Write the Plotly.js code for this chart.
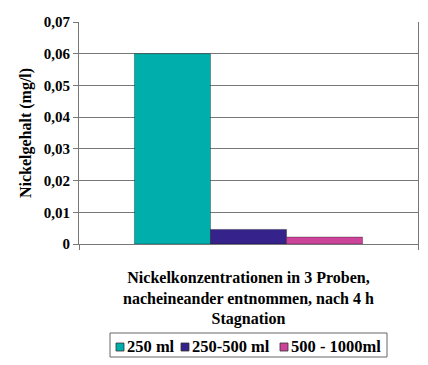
<!DOCTYPE html>
<html>
<head>
<meta charset="utf-8">
<script src="https://cdn.plot.ly/plotly-3.0.1.min.js"></script>
<style>html,body{margin:0;padding:0;background:#fff;}#chart{width:428px;height:365px;}</style>
</head>
<body>
<div id="chart"></div>
<script>
var category = ['Nickelkonzentrationen'];
var seriesNames = ['250 ml', '250-500 ml', '500 - 1000ml'];
var seriesValues = [[0.06], [0.0046], [0.0022]];
var seriesColors = ['#00AFAC', '#35228A', '#CC4499'];
var yTickVals = [0, 0.01, 0.02, 0.03, 0.04, 0.05, 0.06, 0.07];
var yTickText = ['0', '0,01', '0,02', '0,03', '0,04', '0,05', '0,06', '0,07'];
var xTitle = 'Nickelkonzentrationen in 3 Proben,<br>nacheineander entnommen, nach 4 h<br>Stagnation';
var yTitle = 'Nickelgehalt (mg/l)';

var font = {family: 'Liberation Serif', color: '#000', weight: 700};

// plot area geometry (pixels) used to place the hand-made legend
var M = {l: 79, r: 10, t: 22, b: 121};
var plotW = 428 - M.l - M.r, plotH = 365 - M.t - M.b;
function px(x) { return (x - M.l) / plotW; }
function py(y) { return (365 - M.b - y) / plotH; }

var legendSwatchX = [116, 181, 280];   // pixel left of each swatch
var legendTop = 343, legendSize = 8;

var traces = seriesNames.map(function(n, i) {
  return {
    type: 'bar', name: n, x: category, y: seriesValues[i], showlegend: false,
    marker: {color: seriesColors[i], line: {color: 'rgba(0,0,0,0.45)', width: 0.7}}
  };
});

var shapes = [{
  type: 'rect', xref: 'paper', yref: 'paper',
  x0: px(110), x1: px(387), y0: py(357), y1: py(333),
  line: {color: '#666', width: 1}, fillcolor: '#fff', layer: 'above'
}];
var annotations = [];
seriesNames.forEach(function(n, i) {
  var sx = legendSwatchX[i];
  shapes.push({
    type: 'rect', xref: 'paper', yref: 'paper',
    x0: px(sx), x1: px(sx + legendSize), y0: py(legendTop + legendSize), y1: py(legendTop),
    fillcolor: seriesColors[i], line: {color: '#333', width: 0.8}, layer: 'above'
  });
  annotations.push({
    xref: 'paper', yref: 'paper', x: px(sx + legendSize + 0.5), y: py(346.5),
    xanchor: 'left', yanchor: 'middle', showarrow: false, text: n,
    font: Object.assign({}, font, {size: 16.5})
  });
});

var layout = {
  width: 428, height: 365,
  margin: M,
  paper_bgcolor: '#fff', plot_bgcolor: '#fff',
  barmode: 'group', bargap: 0.327, bargroupgap: 0,
  showlegend: false,
  shapes: shapes, annotations: annotations,
  xaxis: {
    type: 'category', showticklabels: false,
    ticks: 'outside', tickson: 'boundaries', ticklen: 5, tickcolor: '#777',
    showline: true, linecolor: '#777', linewidth: 1, mirror: false,
    showgrid: false, zeroline: false, fixedrange: true, automargin: false,
    title: {text: xTitle, font: Object.assign({}, font, {size: 16}), standoff: 27}
  },
  yaxis: {
    range: [0, 0.07], tickvals: yTickVals, ticktext: yTickText,
    ticks: 'outside', ticklen: 5, tickcolor: '#777', automargin: false,
    showline: true, linecolor: '#777', linewidth: 1, mirror: true,
    showgrid: true, gridcolor: '#777', gridwidth: 1, zeroline: false,
    tickfont: Object.assign({}, font, {size: 15}),
    title: {text: yTitle, font: Object.assign({}, font, {size: 16}), standoff: 8}
  }
};

Plotly.newPlot('chart', traces, layout, {displayModeBar: false, staticPlot: true});
</script>
</body>
</html>
